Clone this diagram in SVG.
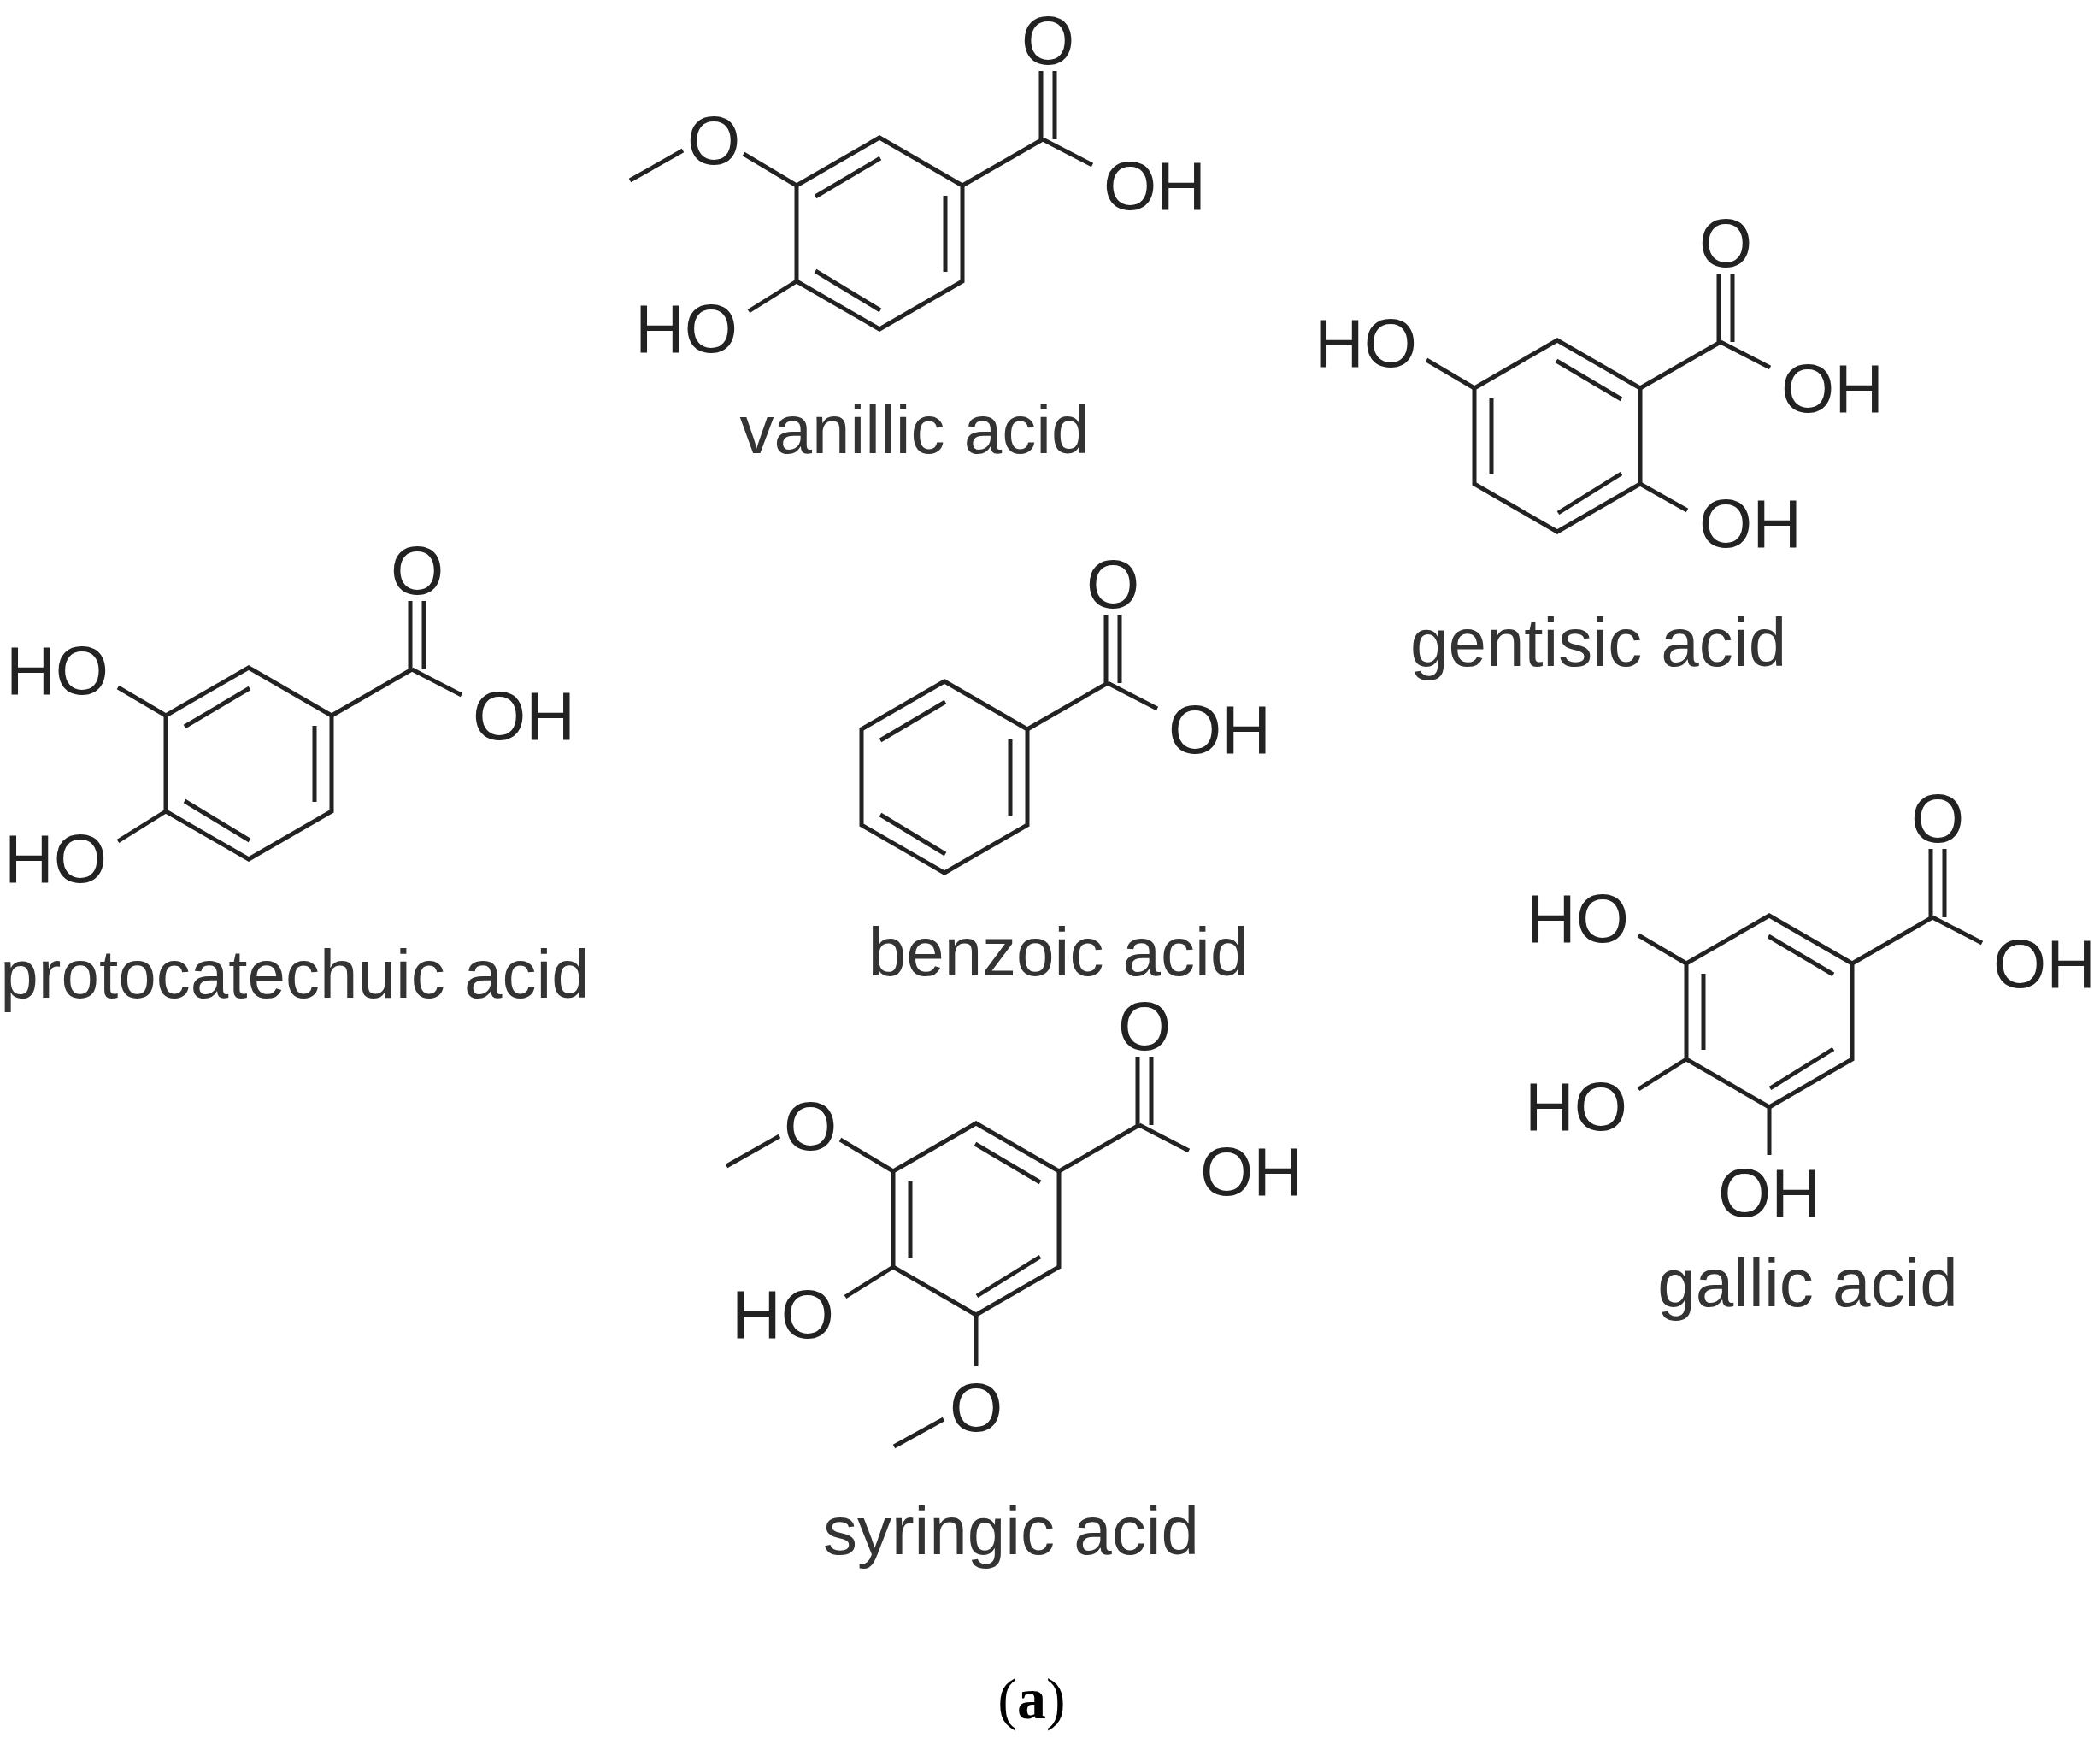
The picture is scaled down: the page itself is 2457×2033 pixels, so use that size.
<svg xmlns="http://www.w3.org/2000/svg" width="2457" height="2033" viewBox="0 0 2457 2033">
<style>
.b{stroke:#222;stroke-width:5;fill:none;stroke-linecap:butt}
.t{font-family:"Liberation Sans",Arial,sans-serif;font-size:80px;fill:#222}
.l{font-family:"Liberation Sans",Arial,sans-serif;font-size:80px;fill:#333;text-anchor:middle}
</style>
<defs>
<path id="ring" class="b" d="M0,-112 L97,-56 L97,56 L0,112 L-97,56 L-97,-56 Z"/>
<path id="dbA" class="b" d="M-75,-43 L1,-88 M77,-44 L77,45 M-75,44 L1,90"/>
<path id="dbB" class="b" d="M-1,-88 L75,-43 M-77,-44 L-77,45 M1,90 L75,44"/>
<g id="cooh">
<path class="b" d="M97,-56 L191,-110 M189,-110 L189,-190 M205,-110 L205,-190 M191,-110 L249,-80"/>
<text class="t" x="197" y="-198" text-anchor="middle">O</text>
<text class="t" x="262" y="-28">OH</text>
</g>
<g id="ulOMe">
<path class="b" d="M-97,-56 L-159,-93 M-230,-97 L-292,-62"/>
<text class="t" x="-194" y="-81" text-anchor="middle">O</text>
</g>
<g id="ulOH">
<path class="b" d="M-97,-56 L-153,-89"/>
<text class="t" x="-164" y="-81" text-anchor="end">HO</text>
</g>
<g id="llOH">
<path class="b" d="M-97,56 L-153,91"/>
<text class="t" x="-166" y="139" text-anchor="end">HO</text>
</g>
</defs>
<rect width="2457" height="2033" fill="#fff"/>
<g id="vanillic" transform="translate(1029,273)">
<use href="#ring"/><use href="#dbA"/><use href="#cooh"/><use href="#ulOMe"/><use href="#llOH"/>
<text class="l" x="41" y="257">vanillic acid</text>
</g>
<g id="gentisic" transform="translate(1822,510)">
<use href="#ring"/><use href="#dbB"/><use href="#cooh"/><use href="#ulOH"/>
<path class="b" d="M97,56 L152,87"/>
<text class="t" x="166" y="130">OH</text>
<text class="l" x="48" y="269">gentisic acid</text>
</g>
<g id="protocatechuic" transform="translate(291,893)">
<use href="#ring"/><use href="#dbA"/><use href="#cooh"/><use href="#ulOH"/><use href="#llOH"/>
<text class="l" x="54" y="274">protocatechuic acid</text>
</g>
<g id="benzoic" transform="translate(1105,909)">
<use href="#ring"/><use href="#dbA"/><use href="#cooh"/>
<text class="l" x="133" y="232">benzoic acid</text>
</g>
<g id="gallic" transform="translate(2070,1183)">
<use href="#ring"/><use href="#dbB"/><use href="#cooh"/><use href="#ulOH"/><use href="#llOH"/>
<path class="b" d="M0,112 L0,168"/>
<text class="t" x="0" y="240" text-anchor="middle">OH</text>
<text class="l" x="45" y="345">gallic acid</text>
</g>
<g id="syringic" transform="translate(1142,1426)">
<use href="#ring"/><use href="#dbB"/><use href="#cooh"/><use href="#ulOMe"/><use href="#llOH"/>
<path class="b" d="M0,112 L0,172 M-38,234 L-96,266"/>
<text class="t" x="0" y="248" text-anchor="middle">O</text>
<text class="l" x="41" y="392">syringic acid</text>
</g>
<text x="1207" y="2010" text-anchor="middle" style="font-family:'Liberation Serif',serif;font-size:68px;fill:#000">(<tspan font-weight="bold">a</tspan>)</text>
</svg>
